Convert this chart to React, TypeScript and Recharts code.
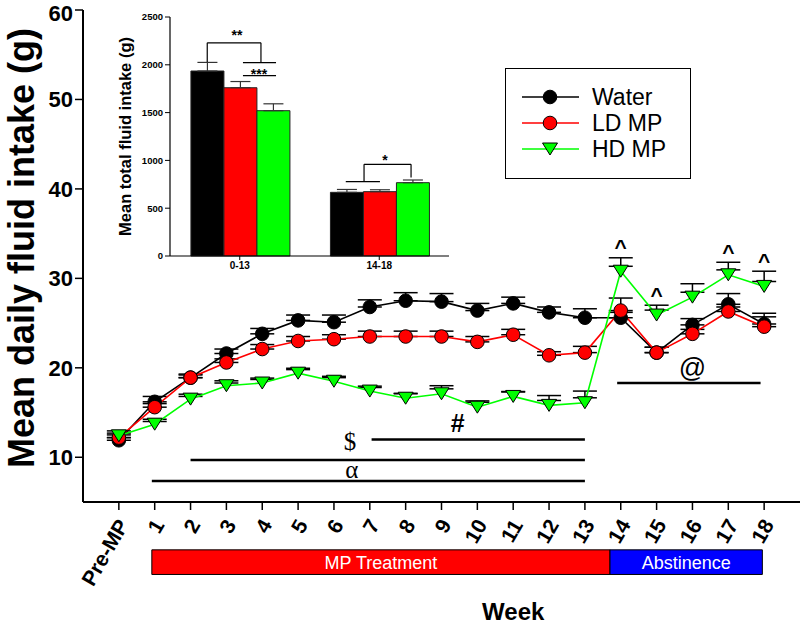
import React from "react";
import {
  ComposedChart,
  BarChart,
  Bar,
  Line,
  XAxis,
  YAxis,
  ErrorBar,
  ReferenceLine,
  ReferenceArea,
  ReferenceDot,
  Legend,
  Label,
  LabelList,
} from "recharts";

// weekly means (g), index 0 = Pre-MP
const weekLabels = ["Pre-MP", "1", "2", "3", "4", "5", "6", "7", "8", "9", "10", "11", "12", "13", "14", "15", "16", "17", "18"];
const waterMeans = [11.9, 16.2, 18.9, 21.6, 23.8, 25.3, 25.1, 26.8, 27.5, 27.4, 26.4, 27.2, 26.2, 25.6, 25.6, 21.7, 24.8, 27.1, 24.9];
const waterSem = [0.3, 0.6, 0.4, 0.5, 0.6, 0.6, 0.8, 0.8, 0.9, 0.9, 0.8, 0.7, 0.6, 1.0, 0.6, 0.6, 0.7, 1.2, 1.2];
const ldMeans = [12.2, 15.6, 18.9, 20.6, 22.1, 23.0, 23.2, 23.5, 23.5, 23.5, 22.9, 23.7, 21.4, 21.7, 26.4, 21.7, 23.8, 26.3, 24.6];
const ldSem = [0.3, 0.4, 0.3, 0.4, 0.5, 0.5, 0.5, 0.6, 0.6, 0.6, 0.6, 0.6, 0.4, 0.7, 1.4, 0.6, 0.5, 0.5, 1.1];
const hdMeans = [12.4, 13.7, 16.5, 18.0, 18.3, 19.4, 18.5, 17.4, 16.6, 17.1, 15.6, 16.8, 15.8, 16.1, 30.8, 25.9, 27.9, 30.4, 29.1];
const hdSem = [0.3, 0.3, 0.3, 0.3, 0.4, 0.4, 0.4, 0.4, 0.5, 0.9, 0.7, 0.5, 1.1, 1.3, 1.5, 1.1, 1.5, 1.4, 1.7];

const yTicks = [10, 20, 30, 40, 50, 60];
const caretWeeks = [14, 15, 17, 18];

// phase bars under the x axis
const phases = [
  { label: "MP Treatment", from: 0.92, to: 13.7, color: "#ff0000" },
  { label: "Abstinence", from: 13.7, to: 17.95, color: "#0000ff" },
];

// significance lines: week range, height, symbol position
const sigLines = [
  { symbol: "α", from: 0.92, to: 13, level: 7.35, labelX: 6.5, labelY: 8.6, font: "serif" },
  { symbol: "$", from: 2, to: 13, level: 9.7, labelX: 6.45, labelY: 11.8, font: "serif" },
  { symbol: "#", from: 7.05, to: 13, level: 12.0, labelX: 9.45, labelY: 13.8, font: "sans" },
  { symbol: "@", from: 13.9, to: 17.9, level: 18.3, labelX: 16.0, labelY: 20.0, font: "sans" },
];

// inset: mean total intake per period
const insetPeriods = ["0-13", "14-18"];
const insetWater = [1935, 666];
const insetWaterSem = [90, 30];
const insetLd = [1760, 673];
const insetLdSem = [65, 20];
const insetHd = [1520, 767];
const insetHdSem = [72, 28];
const insetTicks = [0, 500, 1000, 1500, 2000, 2500];

// bracket pieces on a 0..2 scale across the inset (one unit per period)
const insetBrackets = [
  { x1: 0.267, y1: 2030, x2: 0.267, y2: 2230 },
  { x1: 0.267, y1: 2230, x2: 0.652, y2: 2230 },
  { x1: 0.652, y1: 2230, x2: 0.652, y2: 2022 },
  { x1: 0.523, y1: 2022, x2: 0.76, y2: 2022 },
  { x1: 0.523, y1: 1886, x2: 0.76, y2: 1886 },
  { x1: 1.26, y1: 778, x2: 1.505, y2: 778 },
  { x1: 1.391, y1: 778, x2: 1.391, y2: 959 },
  { x1: 1.391, y1: 959, x2: 1.728, y2: 959 },
  { x1: 1.728, y1: 959, x2: 1.728, y2: 820 },
];
const insetStars = [
  { text: "**", x: 0.48, y: 2338 },
  { text: "***", x: 0.638, y: 1940 },
  { text: "*", x: 1.541, y: 1040 },
];

const FONT = "Arial, 'Liberation Sans', Helvetica, sans-serif";
const SERIF = "'Times New Roman', 'Liberation Serif', serif";

const series = [
  { key: "water", name: "Water", stroke: "#000000", fill: "#000000", shape: "circle" },
  { key: "ld", name: "LD MP", stroke: "#ff0000", fill: "#ff0000", shape: "circle" },
  { key: "hd", name: "HD MP", stroke: "#00ff00", fill: "#00ff00", shape: "triangle" },
];

// error bars only go up; the lower end sits hidden inside the marker
const lineData = weekLabels.map((label, i) => ({
  x: i,
  label,
  water: waterMeans[i],
  waterErr: [0, waterSem[i]],
  ld: ldMeans[i],
  ldErr: [0, ldSem[i]],
  hd: hdMeans[i],
  hdErr: [-0.55, hdSem[i]],
}));

const insetData = insetPeriods.map((period, i) => ({
  period,
  pos: i + 0.5,
  water: insetWater[i],
  waterErr: [0, insetWaterSem[i]],
  ld: insetLd[i],
  ldErr: [0, insetLdSem[i]],
  hd: insetHd[i],
  hdErr: [0, insetHdSem[i]],
}));

function Marker({ cx, cy, shape, fill }: any) {
  if (cx == null || cy == null) return null;
  if (shape === "triangle") {
    const w = 7.5;
    const h = 12;
    return (
      <polygon
        points={`${cx - w},${cy - h / 2} ${cx + w},${cy - h / 2} ${cx},${cy + h / 2}`}
        fill={fill}
        stroke="#000"
        strokeWidth={1}
      />
    );
  }
  return <circle cx={cx} cy={cy} r={6.8} fill={fill} stroke="#000" strokeWidth={1} />;
}

function WeekTick({ x, y, payload }: any) {
  const tx = x + 4;
  const ty = y + 9;
  return (
    <text
      x={tx}
      y={ty}
      transform={`rotate(-60 ${tx} ${ty})`}
      textAnchor="end"
      dominantBaseline="central"
      fontFamily={FONT}
      fontWeight={700}
      fontSize={21}
      fill="#000"
    >
      {weekLabels[payload.value]}
    </text>
  );
}

function LegendBox() {
  return (
    <div
      style={{
        width: 186,
        height: 111,
        border: "1.5px solid #000",
        boxSizing: "border-box",
        background: "#fff",
        paddingTop: 15,
      }}
    >
      {series.map((s) => (
        <div key={s.key} style={{ display: "flex", alignItems: "center", height: 26 }}>
          <svg width={86} height={22} style={{ display: "block" }}>
            <line x1={16} x2={73} y1={11} y2={11} stroke={s.stroke} strokeWidth={1.5} />
            <Marker cx={44} cy={11} shape={s.shape} fill={s.fill} />
          </svg>
          <span style={{ fontFamily: FONT, fontSize: 23, color: "#000", lineHeight: "26px" }}>{s.name}</span>
        </div>
      ))}
    </div>
  );
}

function symbolLabel(text: string, family: string, size: number, weight = 400, shift = 0) {
  return (p: any) => {
    const vb = p.viewBox || {};
    const cx = vb.x + (vb.width || 0) / 2;
    const cy = vb.y + (vb.height || 0) / 2;
    return (
      <text
        x={cx}
        y={cy + shift}
        textAnchor="middle"
        dominantBaseline={shift ? "auto" : "central"}
        fontFamily={family}
        fontSize={size}
        fontWeight={weight}
        fill="#000"
      >
        {text}
      </text>
    );
  };
}

function MainChart() {
  return (
    <ComposedChart
      width={800}
      height={627}
      data={lineData}
      margin={{ top: 10, right: 0, bottom: 0, left: 0 }}
    >
      <XAxis
        dataKey="x"
        type="number"
        domain={[-1, 19]}
        ticks={weekLabels.map((_, i) => i)}
        interval={0}
        height={125}
        tickSize={8}
        tick={(p: any) => <WeekTick {...p} />}
        axisLine={{ stroke: "#000", strokeWidth: 2 }}
        tickLine={{ stroke: "#000", strokeWidth: 1.5 }}
      >
        <Label
          content={(p: any) => {
            const vb = p.viewBox;
            return (
              <text
                x={vb.x + vb.width * 0.6}
                y={vb.y + vb.height - 7}
                textAnchor="middle"
                fontFamily={FONT}
                fontWeight={700}
                fontSize={24}
                fill="#000"
              >
                Week
              </text>
            );
          }}
        />
      </XAxis>
      <YAxis
        type="number"
        domain={[5, 60]}
        ticks={yTicks}
        allowDataOverflow
        width={83}
        tickSize={8}
        tick={{ fontFamily: FONT, fontWeight: 700, fontSize: 22, fill: "#000" }}
        axisLine={{ stroke: "#000", strokeWidth: 2 }}
        tickLine={{ stroke: "#000", strokeWidth: 1.5 }}
      >
        <Label
          content={(p: any) => {
            const vb = p.viewBox;
            const cx = 21;
            const cy = vb.y + vb.height / 2 - 8;
            return (
              <text
                x={cx}
                y={cy}
                transform={`rotate(-90 ${cx} ${cy})`}
                textAnchor="middle"
                dominantBaseline="central"
                fontFamily={FONT}
                fontWeight={700}
                fontSize={36}
                fill="#000"
              >
                Mean daily fluid intake (g)
              </text>
            );
          }}
        />
      </YAxis>

      {phases.map((ph) => (
        <ReferenceArea
          key={ph.label}
          x1={ph.from}
          x2={ph.to}
          y1={-3.1}
          y2={-0.35}
          ifOverflow="visible"
          fill={ph.color}
          fillOpacity={1}
          stroke="#000"
          strokeWidth={1}
          label={{ value: ph.label, position: "center", fill: "#fff", fontSize: 18, fontFamily: FONT }}
        />
      ))}

      {sigLines.map((s) => (
        <ReferenceLine
          key={s.symbol}
          segment={[
            { x: s.from, y: s.level },
            { x: s.to, y: s.level },
          ]}
          stroke="#000"
          strokeWidth={2.5}
          ifOverflow="visible"
        />
      ))}
      {sigLines.map((s) => (
        <ReferenceDot
          key={"t" + s.symbol}
          x={s.labelX}
          y={s.labelY}
          r={1}
          fill="none"
          stroke="none"
          ifOverflow="visible"
          label={symbolLabel(
            s.symbol,
            s.font === "serif" ? SERIF : FONT,
            s.symbol === "@" ? 27 : 25,
            s.symbol === "#" ? 700 : 400
          )}
        />
      ))}

      {/* lines + error bars; markers go in the label layer so they cover the error stems */}
      {series.map((s) => (
        <Line
          key={s.key}
          dataKey={s.key}
          type="linear"
          stroke={s.stroke}
          strokeWidth={1.6}
          isAnimationActive={false}
          dot={false}
          activeDot={false}
        >
          <ErrorBar dataKey={s.key + "Err"} width={12} stroke="#000" strokeWidth={1.5} direction="y" />
          <LabelList
            dataKey={s.key}
            content={(p: any) => (
              <Marker cx={p.x} cy={p.y} shape={s.shape} fill={s.fill} />
            )}
          />
        </Line>
      ))}

      {caretWeeks.map((w) => (
        <ReferenceDot
          key={"c" + w}
          x={w}
          y={hdMeans[w] + hdSem[w] + 1.6}
          r={1}
          fill="none"
          stroke="none"
          ifOverflow="visible"
          label={symbolLabel("^", FONT, 21, 700, 11)}
        />
      ))}

      <Legend
        layout="vertical"
        align="center"
        verticalAlign="middle"
        wrapperStyle={{ left: 505, top: 68, width: 186, height: 111 }}
        content={() => <LegendBox />}
      />
    </ComposedChart>
  );
}

function InsetChart() {
  return (
    <BarChart
      width={460}
      height={275}
      data={insetData}
      margin={{ top: 17, right: 11, left: 0, bottom: 0 }}
      barCategoryGap="15%"
      barGap={0}
    >
      <XAxis
        dataKey="period"
        height={19}
        tickSize={4}
        tick={{ fontFamily: FONT, fontWeight: 700, fontSize: 10, fill: "#000" }}
        axisLine={{ stroke: "#000", strokeWidth: 1.2 }}
        tickLine={{ stroke: "#000" }}
      />
      <XAxis xAxisId="n" dataKey="pos" type="number" domain={[0, 2]} allowDataOverflow hide />
      <YAxis
        type="number"
        domain={[0, 2500]}
        ticks={insetTicks}
        width={170}
        tickSize={5}
        tick={{ fontFamily: FONT, fontWeight: 700, fontSize: 9.5, fill: "#000" }}
        axisLine={{ stroke: "#000", strokeWidth: 1.2 }}
        tickLine={{ stroke: "#000" }}
      >
        <Label
          content={(p: any) => {
            const vb = p.viewBox;
            const cx = 125;
            const cy = vb.y + vb.height / 2;
            return (
              <text
                x={cx}
                y={cy}
                transform={`rotate(-90 ${cx} ${cy})`}
                textAnchor="middle"
                dominantBaseline="central"
                fontFamily={FONT}
                fontWeight={700}
                fontSize={16.5}
                fill="#000"
              >
                Mean total fluid intake (g)
              </text>
            );
          }}
        />
      </YAxis>
      {series.map((s) => (
        <Bar key={s.key} dataKey={s.key} fill={s.fill} stroke="#222" strokeWidth={1} isAnimationActive={false}>
          <ErrorBar dataKey={s.key + "Err"} width={10} stroke="#333" strokeWidth={1.2} direction="y" />
        </Bar>
      ))}
      {insetBrackets.map((b, i) => (
        <ReferenceLine
          key={"b" + i}
          xAxisId="n"
          segment={[
            { x: b.x1, y: b.y1 },
            { x: b.x2, y: b.y2 },
          ]}
          stroke="#000"
          strokeWidth={1.2}
          ifOverflow="visible"
        />
      ))}
      {insetStars.map((st) => (
        <ReferenceDot
          key={"s" + st.text}
          xAxisId="n"
          x={st.x}
          y={st.y}
          r={1}
          fill="none"
          stroke="none"
          ifOverflow="visible"
          label={symbolLabel(st.text, FONT, 14, 700, 8)}
        />
      ))}
    </BarChart>
  );
}

export default function App() {
  return (
    <div style={{ position: "absolute", left: 0, top: 0, width: 800, height: 627, background: "#fff" }}>
      <MainChart />
      <div style={{ position: "absolute", left: 0, top: 0 }}>
        <InsetChart />
      </div>
    </div>
  );
}
